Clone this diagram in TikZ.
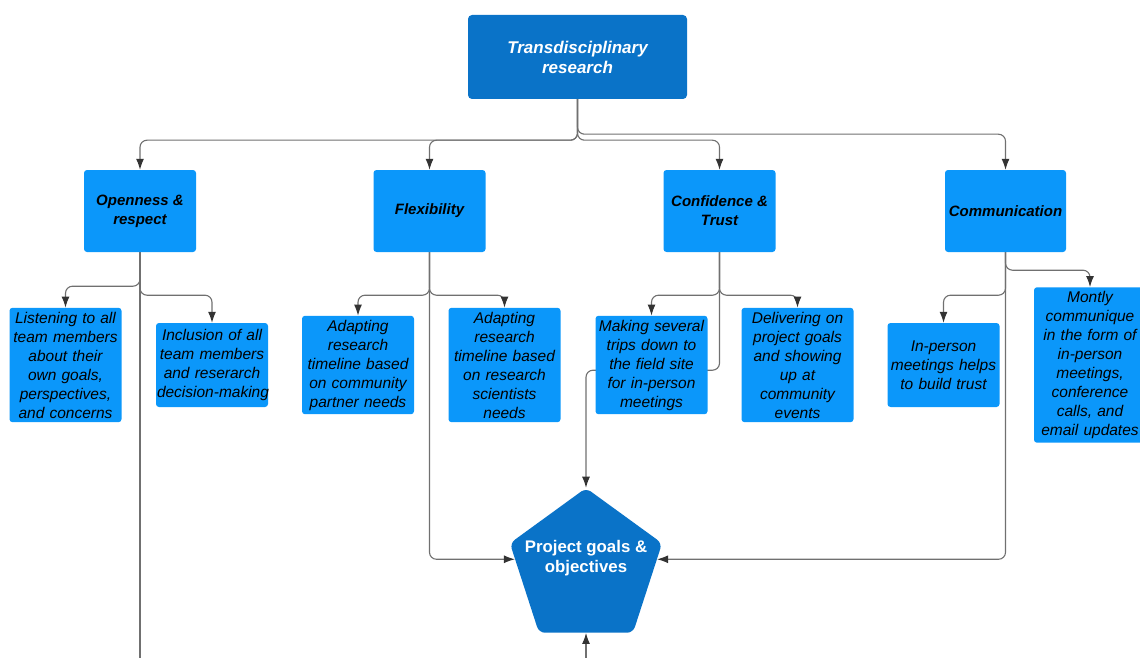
\documentclass[tikz,border=0pt]{standalone}
\usepackage{fontspec}
\setmainfont{Liberation Sans}
\usepackage{tikz}
\usetikzlibrary{positioning, arrows.meta, shapes.geometric, backgrounds}
\definecolor{darkblue}{HTML}{0A73C8}
\definecolor{boxblue}{HTML}{0B97FA}
\definecolor{linegray}{HTML}{707070}
\definecolor{tipgray}{HTML}{333333}

\begin{document}
\begin{tikzpicture}[x=1pt, y=-1pt,
    topblock/.style={rectangle, rounded corners=4pt, fill=darkblue, text=white, minimum width=219pt, minimum height=84pt, align=center, font=\fontsize{17}{20}\selectfont\bfseries\itshape},
    catblock/.style={rectangle, rounded corners=3pt, fill=boxblue, minimum width=112pt, minimum height=82pt, inner sep=2pt, align=center, font=\fontsize{15}{19}\selectfont\bfseries\itshape},
    leafblock/.style={rectangle, rounded corners=3pt, fill=boxblue, text width=110pt, minimum height=84pt, inner xsep=1pt, inner ysep=4pt, align=center, font=\fontsize{15.5}{19}\selectfont\itshape},
    goalblock/.style={regular polygon, regular polygon sides=5, minimum size=160pt, inner sep=0pt, fill=darkblue, rounded corners=6pt},
    goallabel/.style={text=white, align=center, font=\fontsize{16.8}{20}\selectfont\bfseries},
    arrow/.style={-{Latex[length=11pt, width=8pt, color=tipgray]}, draw=linegray, line width=1.1pt, rounded corners=7pt},
    plainline/.style={draw=linegray, line width=1.1pt},
]
\useasboundingbox (0,0) rectangle (1140,658);
\coordinate (cutoff) at (0,662);

% Top
\node[topblock] (top) at (577.5,57) {Transdisciplinary\\research};

% Values
\node[catblock] (open) at (140,211) {Openness \&\\respect};
\node[catblock] (flex) at (429.5,211) {Flexibility};
\node[catblock] (conf) at (719.5,211) {Confidence \&\\Trust};
\node[catblock, minimum width=121pt] (comm) at (1005.5,211) {Communication};

% Practices
\node[leafblock] (listen) at (65.5,365) {Listening to all\\team members\\about their\\own goals,\\perspectives,\\and concerns};
\node[leafblock] (incl) at (212,365) {Inclusion of all\\team members\\and reserarch\\\mbox{decision-making}};
\node[leafblock] (adaptA) at (358,365) {Adapting\\research\\timeline based\\on community\\partner needs};
\node[leafblock] (adaptB) at (504.5,365) {Adapting\\research\\timeline based\\on research\\scientists\\needs};
\node[leafblock] (trips) at (651.5,365) {Making several\\trips down to\\the field site\\for in-person\\meetings};
\node[leafblock] (deliver) at (797.5,365) {Delivering on\\project goals\\and showing\\up at\\community\\events};
\node[leafblock] (meet) at (943.5,365) {In-person\\meetings helps\\to build trust};
\node[leafblock] (monthly) at (1090,365) {Montly\\communique\\in the form of\\in-person\\meetings,\\conference\\calls, and\\email updates};

% Goal
\node[goalblock] (goal) at (586,568) {};
\node[goallabel, yshift=10pt] (goaltext) at (goal.center) {Project goals \&\\objectives};

% Connectors
\begin{scope}[on background layer]
\draw[arrow] (top.south) -- ++(0,41) -| (open.north);
\draw[arrow] (top.south) -- ++(0,41) -| (flex.north);
\draw[arrow] (top.south) -- ++(0,41) -| (conf.north);
\draw[arrow] (top.south) -- ++(0,35) -| (comm.north);

\draw[arrow] (open.south) -- ++(0,34) -| (listen.north);
\draw[arrow] (open.south) -- ++(0,43) -| (incl.north);
\draw[plainline] (open.south) -- (open.south |- cutoff);

\draw[arrow] (flex.south) -- ++(0,43) -| (adaptA.north);
\draw[arrow] (flex.south) -- ++(0,43) -| (adaptB.north);
\draw[arrow] (flex.south) |- (goal.173);

\draw[arrow] (conf.south) -- ++(0,43) -| (trips.north);
\draw[arrow] (conf.south) -- ++(0,43) -| (deliver.north);
\draw[arrow] (conf.south) -- ++(0,118) -| (goal.north);

\draw[arrow] (comm.south) -- ++(0,43) -| (meet.north);
\draw[arrow] (comm.south) -- ++(0,18) -| (monthly.north);
\draw[arrow] (comm.south) |- (goal.7);

\draw[arrow] (goal.south |- cutoff) -- (goal.south);
\end{scope}
\end{tikzpicture}
\end{document}
